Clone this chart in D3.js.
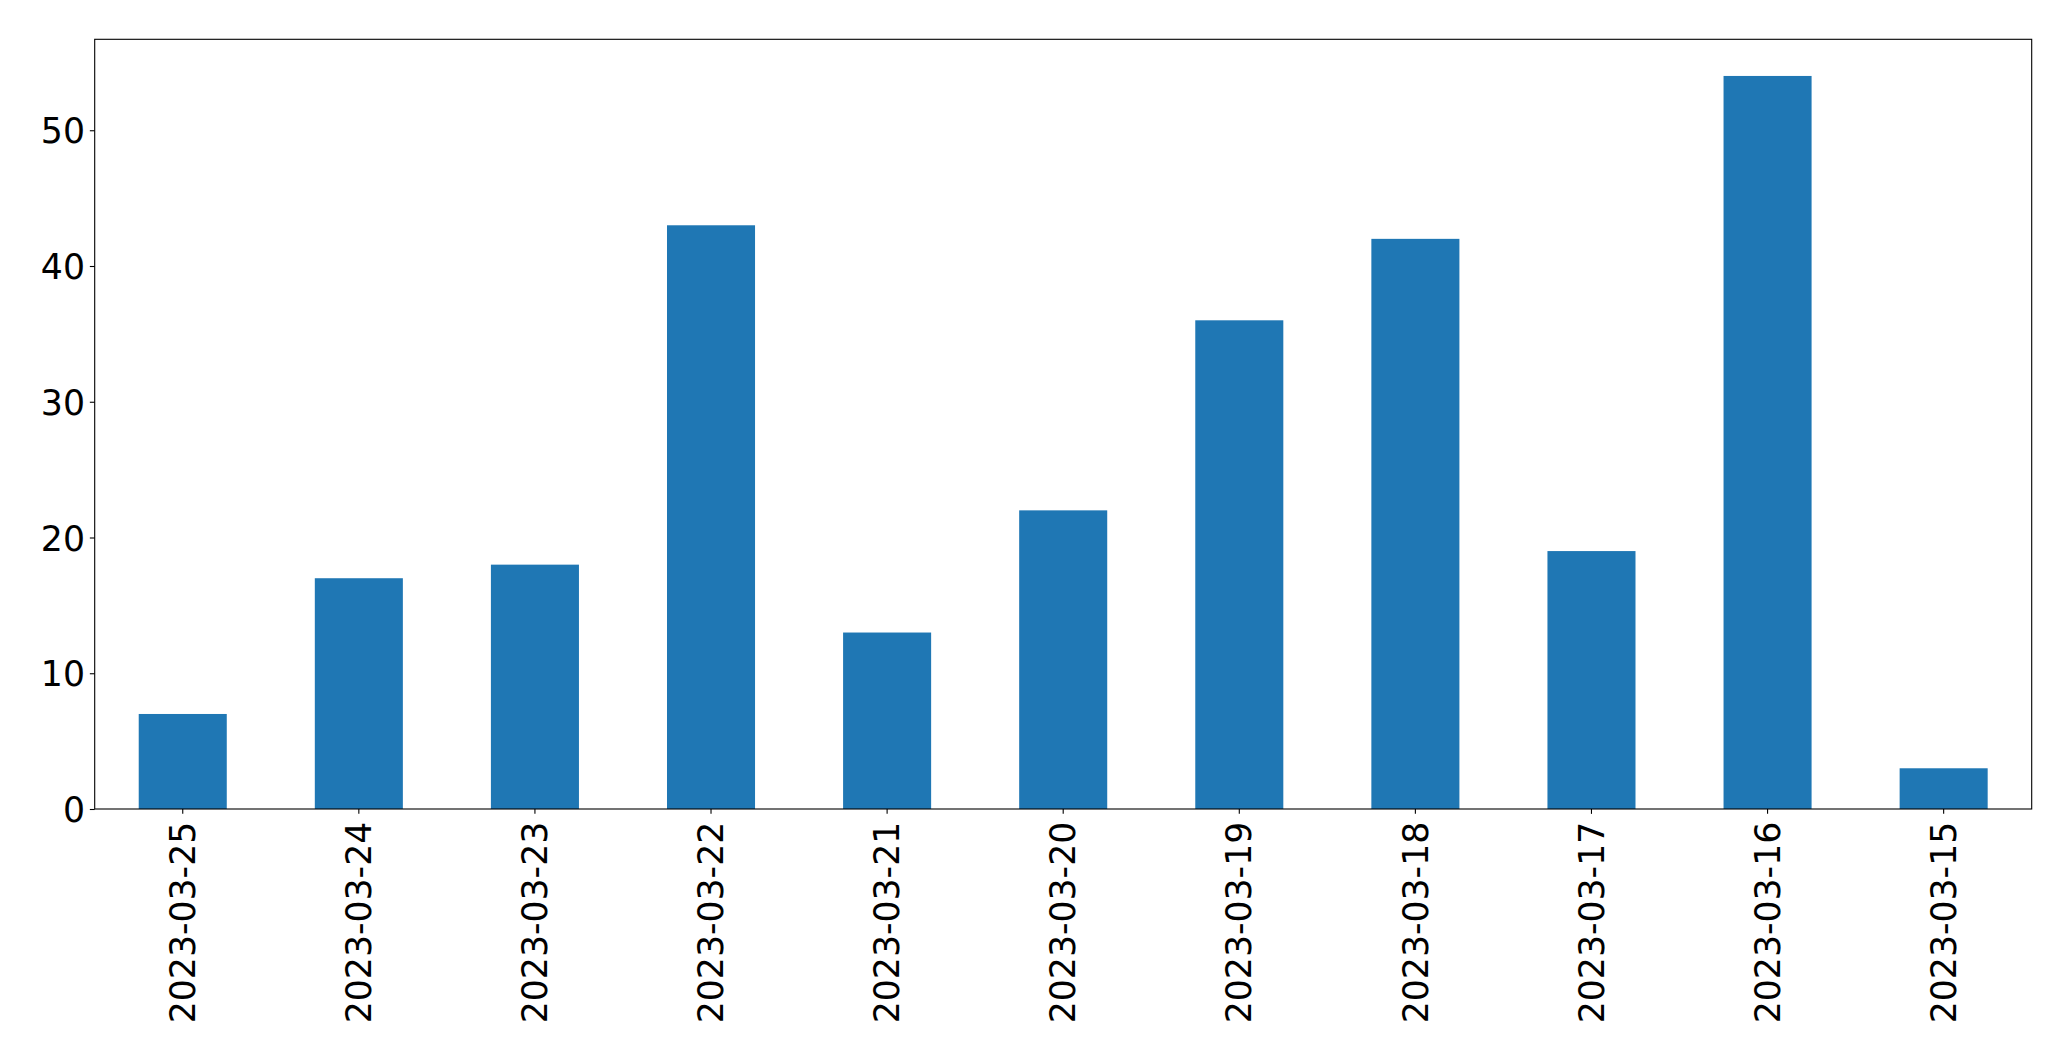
<!DOCTYPE html>
<html>
<head>
<meta charset="utf-8">
<script src="https://cdn.jsdelivr.net/npm/d3@7"></script>
<style>
  html, body { margin: 0; padding: 0; background: #fff; }
  svg { display: block; }
  text { font-family: "DejaVu Sans", sans-serif; fill: #000; }
</style>
</head>
<body>
<svg id="chart" width="2071" height="1061"></svg>
<script>
const categories = ["2023-03-25","2023-03-24","2023-03-23","2023-03-22","2023-03-21","2023-03-20","2023-03-19","2023-03-18","2023-03-17","2023-03-16","2023-03-15"];
const values = [7, 17, 18, 43, 13, 22, 36, 42, 19, 54, 3];
const yTicks = [0, 10, 20, 30, 40, 50];

const W = 2071, H = 1061;
const m = { left: 94.7, right: 2071 - 2031.7, top: 39.3, bottom: H - 809 };
const svg = d3.select("#chart");
const iw = W - m.left - m.right, ih = H - m.top - m.bottom;
const g = svg.append("g").attr("transform", `translate(${m.left},${m.top})`);

const x = d3.scaleBand().domain(categories).range([0, iw]).paddingInner(0.5).paddingOuter(0.25);
const yMax = d3.max(values) * 1.05;
const y = d3.scaleLinear().domain([0, yMax]).range([ih, 0]);

const fontPx = 34.7;
const tickLen = 4.86, pad = 4.86;

g.selectAll("rect.bar").data(values).enter().append("rect")
  .attr("class", "bar")
  .attr("x", (d, i) => x(categories[i]))
  .attr("width", x.bandwidth())
  .attr("y", d => y(d))
  .attr("height", d => ih - y(d))
  .attr("fill", "#1f77b4");

// y axis
const yAxis = d3.axisLeft(y).tickValues(yTicks).tickSize(tickLen).tickPadding(pad).tickFormat(d3.format("d"));
const ya = g.append("g").call(yAxis);
ya.select(".domain").remove();
ya.selectAll(".tick line").attr("stroke", "#000").attr("stroke-width", 1.1);
ya.selectAll(".tick text").style("font-size", fontPx + "px").attr("fill", "#000").attr("dy", "0.36em");

// x axis
const xAxis = d3.axisBottom(x).tickSize(tickLen).tickPadding(pad);
const xa = g.append("g").attr("transform", `translate(0,${ih})`).call(xAxis);
xa.select(".domain").remove();
xa.selectAll(".tick line").attr("stroke", "#000").attr("stroke-width", 1.1);
xa.selectAll(".tick text")
  .style("font-size", fontPx + "px")
  .attr("fill", "#000")
  .attr("text-anchor", "end")
  .attr("y", 0).attr("dy", "0.35em")
  .attr("transform", `translate(0,${tickLen + pad + 3}) rotate(-90)`);

// frame
g.append("rect").attr("x", 0).attr("y", 0).attr("width", iw).attr("height", ih)
  .attr("fill", "none").attr("stroke", "#000").attr("stroke-width", 1.1);
</script>
</body>
</html>
